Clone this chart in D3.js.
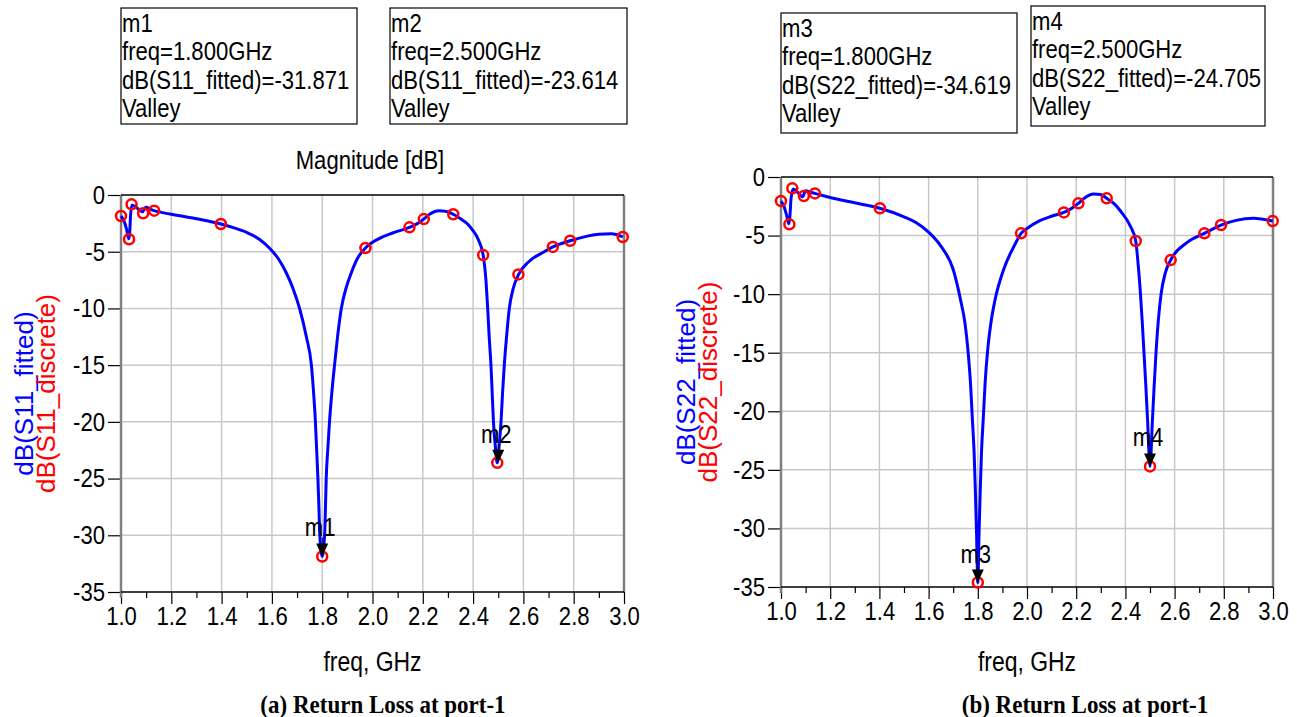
<!DOCTYPE html>
<html>
<head>
<meta charset="UTF-8">
<title>Return Loss at port-1</title>
<style>
  body { margin: 0; background: #fff; }
  svg text { font-family: "Liberation Sans", Arial, sans-serif; fill: #000; }
  svg text.caption { font-family: "Liberation Serif", "Times New Roman", serif; font-weight: bold; }
</style>
</head>
<body>
<script src="https://d3js.org/d3.v7.min.js"></script>
<script>

// ---- data ----
var xTicks = [1.0, 1.2, 1.4, 1.6, 1.8, 2.0, 2.2, 2.4, 2.6, 2.8, 3.0];
var xMinor = [1.1, 1.3, 1.5, 1.7, 1.9, 2.1, 2.3, 2.5, 2.7, 2.9];
var yTicks = [0, -5, -10, -15, -20, -25, -30, -35];

// [freq GHz, dB]
var s11Fitted = [[1.000,-1.85],[1.012,-2.3],[1.022,-3.0],[1.030,-3.85],[1.034,-3.5],[1.038,-1.8],[1.043,-0.9],
  [1.055,-1.0],[1.075,-1.35],[1.086,-1.47],[1.095,-1.15],[1.100,-1.08],[1.115,-1.25],[1.132,-1.38],[1.2,-1.7],
  [1.3,-2.1],[1.397,-2.56],[1.45,-2.9],[1.5,-3.3],[1.55,-3.9],[1.591,-4.7],[1.625,-5.6],[1.658,-6.9],[1.685,-8.3],
  [1.710,-10.0],[1.737,-12.5],[1.757,-15.0],[1.766,-17.5],[1.773,-20.0],[1.778,-22.5],[1.783,-25.0],[1.787,-27.5],
  [1.790,-29.8],[1.800,-31.871],[1.810,-29.8],[1.813,-27.5],[1.816,-25.0],[1.822,-22.5],[1.829,-20.0],[1.838,-17.5],
  [1.849,-15.0],[1.861,-12.5],[1.876,-10.0],[1.895,-8.2],[1.915,-6.9],[1.94,-5.6],[1.972,-4.67],
  [2.028,-3.82],[2.08,-3.35],[2.147,-2.85],[2.18,-2.5],[2.204,-2.12],[2.23,-1.65],[2.263,-1.38],[2.295,-1.45],
  [2.321,-1.70],[2.35,-2.1],[2.38,-2.6],[2.398,-3.09],[2.42,-3.9],[2.440,-5.29],[2.451,-7.5],[2.458,-10.0],
  [2.464,-12.5],[2.471,-15.0],[2.476,-17.5],[2.481,-20.0],[2.489,-22.3],[2.496,-23.614],[2.504,-22.0],[2.511,-20.0],
  [2.517,-17.5],[2.524,-15.0],[2.533,-12.5],[2.544,-10.0],[2.56,-8.2],[2.581,-7.0],[2.62,-5.9],
  [2.683,-5.0],[2.717,-4.58],[2.786,-4.03],[2.85,-3.65],[2.9,-3.45],[2.95,-3.42],[2.995,-3.70]];
var s11Discrete = [[1.000,-1.85],[1.032,-3.9],[1.042,-0.82],[1.088,-1.61],[1.132,-1.38],[1.397,-2.56],
  [1.800,-31.871],[1.972,-4.67],[2.147,-2.85],[2.204,-2.12],[2.321,-1.70],[2.440,-5.3],[2.496,-23.614],
  [2.580,-7.0],[2.717,-4.58],[2.786,-4.03],[2.995,-3.70]];

var s22Fitted = [[1.000,-2.05],[1.012,-2.5],[1.022,-3.2],[1.032,-4.0],[1.036,-3.4],[1.041,-1.8],[1.050,-1.03],
  [1.070,-1.35],[1.088,-1.68],[1.100,-1.17],[1.120,-1.3],[1.138,-1.40],[1.2,-1.75],[1.3,-2.2],[1.402,-2.67],
  [1.5,-3.4],[1.55,-3.9],[1.6,-4.7],[1.65,-5.9],[1.7,-7.9],[1.73,-10.5],[1.748,-12.5],[1.76,-14.8],[1.770,-17.5],
  [1.778,-20.7],[1.785,-23.5],[1.790,-26.7],[1.795,-30.5],
  [1.800,-34.619],[1.805,-30.5],[1.810,-26.7],[1.815,-23.5],[1.822,-20.7],[1.830,-17.5],[1.84,-14.8],[1.853,-12.5],
  [1.87,-10.5],[1.905,-7.9],[1.95,-5.8],[1.976,-4.81],
  [2.0,-4.4],[2.05,-3.75],[2.1,-3.35],[2.150,-3.02],[2.18,-2.7],[2.209,-2.25],[2.24,-1.7],[2.27,-1.45],[2.30,-1.5],
  [2.324,-1.82],[2.355,-2.3],[2.38,-2.9],[2.42,-4.2],[2.442,-5.46],[2.452,-7.5],[2.46,-9.6],[2.468,-12.2],[2.475,-14.8],
  [2.483,-17.8],[2.49,-20.7],[2.500,-24.705],[2.51,-20.7],[2.517,-17.8],[2.525,-14.8],[2.534,-12.2],[2.545,-10.0],
  [2.562,-8.2],[2.584,-7.09],[2.65,-5.6],[2.721,-4.81],[2.789,-4.10],
  [2.85,-3.7],[2.92,-3.53],[2.999,-3.76]];
var s22Discrete = [[1.000,-2.05],[1.034,-4.04],[1.046,-0.97],[1.093,-1.62],[1.138,-1.40],[1.402,-2.67],
  [1.800,-34.619],[1.976,-4.81],[2.150,-3.02],[2.209,-2.25],[2.324,-1.82],[2.442,-5.46],[2.500,-24.705],
  [2.584,-7.09],[2.721,-4.81],[2.789,-4.10],[2.999,-3.76]];

var markersA = [{name: "m1", freq: 1.8, db: -31.871}, {name: "m2", freq: 2.5, db: -23.614}];
var markersB = [{name: "m3", freq: 1.8, db: -34.619}, {name: "m4", freq: 2.5, db: -24.705}];

var m1Lines = ["m1", "freq=1.800GHz", "dB(S11_fitted)=-31.871", "Valley"];
var m2Lines = ["m2", "freq=2.500GHz", "dB(S11_fitted)=-23.614", "Valley"];
var m3Lines = ["m3", "freq=1.800GHz", "dB(S22_fitted)=-34.619", "Valley"];
var m4Lines = ["m4", "freq=2.500GHz", "dB(S22_fitted)=-24.705", "Valley"];

var SQ = 0.85; // horizontal squeeze of the original figure

// ---- svg ----
var svg = d3.select("body").append("svg")
            .attr("width", 1297)
            .attr("height", 717);

// narrow the text around its own x anchor
function squeeze(sel, sx) {
  sel.each(function() {
    var t = d3.select(this);
    var x = +t.attr("x") || 0;
    t.attr("transform", "translate(" + x + ",0) scale(" + sx + ",1) translate(" + (-x) + ",0)");
  });
}

function drawPanel(p) {
  var x = d3.scaleLinear().domain([1, 3]).range([p.left, p.right]);
  var y = d3.scaleLinear().domain([0, -35]).range([p.top, p.bottom]);
  var g = svg.append("g");

  // grid
  g.selectAll(".vgrid").data(xTicks.slice(1, -1)).enter().append("line")
    .attr("x1", d => x(d)).attr("x2", d => x(d))
    .attr("y1", p.top).attr("y2", p.bottom)
    .attr("stroke", "#c8c8c8").attr("stroke-width", 1.5);
  g.selectAll(".hgrid").data(yTicks.slice(1, -1)).enter().append("line")
    .attr("x1", p.left).attr("x2", p.right)
    .attr("y1", d => y(d)).attr("y2", d => y(d))
    .attr("stroke", "#c8c8c8").attr("stroke-width", 1.5);

  // axes
  var yAxis = g.append("g").attr("transform", "translate(" + p.left + ",0)")
    .call(d3.axisLeft(y).tickValues(yTicks).tickSize(13).tickPadding(3).tickFormat(d3.format("d")));
  var xAxis = g.append("g").attr("transform", "translate(0," + p.bottom + ")")
    .call(d3.axisBottom(x).tickValues(xTicks).tickSize(12).tickPadding(3).tickFormat(d3.format(".1f")));
  var xMin = g.append("g").attr("transform", "translate(0," + p.bottom + ")")
    .call(d3.axisBottom(x).tickValues(xMinor).tickSize(6).tickFormat(""));
  [yAxis, xAxis, xMin].forEach(function(a) {
    a.select(".domain").remove();
    a.selectAll("line").attr("stroke", "#000").attr("stroke-width", 1.2);
    a.selectAll("text").style("font-size", "26px").attr("fill", "#000").call(squeeze, SQ);
  });
  yAxis.selectAll("text").text(d => d === 0 ? "0" : "-" + Math.abs(d));

  // frame
  g.append("line").attr("x1", p.left).attr("x2", p.left).attr("y1", p.top).attr("y2", p.bottom + 6)
    .attr("stroke", "#808080").attr("stroke-width", 2.5);
  g.append("line").attr("x1", p.right).attr("x2", p.right).attr("y1", p.top).attr("y2", p.bottom)
    .attr("stroke", "#808080").attr("stroke-width", 2.5);
  g.append("line").attr("x1", p.left).attr("x2", p.right).attr("y1", p.top).attr("y2", p.top)
    .attr("stroke", "#000").attr("stroke-width", 1.5);
  g.append("line").attr("x1", p.left).attr("x2", p.right).attr("y1", p.bottom).attr("y2", p.bottom)
    .attr("stroke", "#000").attr("stroke-width", 1.5);

  // fitted curve
  var line = d3.line().x(d => x(d[0])).y(d => y(d[1])).curve(d3.curveMonotoneX);
  g.append("path").datum(p.fitted)
    .attr("d", line).attr("fill", "none")
    .attr("stroke", "#0000ff").attr("stroke-width", 3);

  // discrete points
  g.selectAll(".pt").data(p.discrete).enter().append("circle")
    .attr("cx", d => x(d[0])).attr("cy", d => y(d[1])).attr("r", 5)
    .attr("fill", "none").attr("stroke", "#ff0000").attr("stroke-width", 2.5);

  // markers
  p.markers.forEach(function(m) {
    var mx = x(m.freq), my = y(m.db);
    g.append("line").attr("x1", mx).attr("x2", mx).attr("y1", my - 19).attr("y2", my - 12)
      .attr("stroke", "#000").attr("stroke-width", 1);
    g.append("path")
      .attr("d", "M" + mx + "," + my + "L" + (mx - 6) + "," + (my - 13) + "L" + (mx + 6) + "," + (my - 13) + "Z")
      .attr("fill", "#000");
    g.append("text").attr("x", mx - 2).attr("y", my - 20)
      .attr("text-anchor", "middle").style("font-size", "26px").text(m.name).call(squeeze, SQ);
  });

  // y label
  var cy = (p.top + p.bottom) / 2;
  g.append("text").attr("transform", "translate(" + p.labelX1 + "," + cy + ") rotate(-90)")
    .attr("text-anchor", "middle").style("font-size", "26px").style("fill", "#0000ff")
    .text(p.label1);
  g.append("text").attr("transform", "translate(" + p.labelX2 + "," + cy + ") rotate(-90)")
    .attr("text-anchor", "middle").style("font-size", "26px").style("fill", "#ff0000")
    .text(p.label2);

  // x label and caption
  var cx = (p.left + p.right) / 2;
  g.append("text").attr("x", cx).attr("y", 671).attr("text-anchor", "middle")
    .style("font-size", "27px").text("freq, GHz").call(squeeze, SQ);
  g.append("text").attr("class", "caption").attr("x", p.captionX).attr("y", 713)
    .attr("text-anchor", "middle").style("font-size", "25px").text(p.caption).call(squeeze, 0.92);

  // marker boxes
  p.boxes.forEach(function(b) {
    g.append("rect").attr("x", b.x).attr("y", b.y).attr("width", b.w).attr("height", b.h)
      .attr("fill", "#fff").attr("stroke", "#000").attr("stroke-width", 1.2);
    g.selectAll(null).data(b.lines).enter().append("text")
      .attr("x", b.x + 1).attr("y", (d, i) => b.y + 24 + i * 28.5)
      .style("font-size", "26px").text(d => d).call(squeeze, SQ);
  });
}

drawPanel({
  left: 121, right: 624, top: 195, bottom: 592,
  fitted: s11Fitted, discrete: s11Discrete, markers: markersA,
  label1: "dB(S11_fitted)", label2: "dB(S11_discrete)", labelX1: 33, labelX2: 55,
  caption: "(a) Return Loss at port-1", captionX: 383,
  boxes: [{x: 121, y: 8, w: 236, h: 116, lines: m1Lines}, {x: 390, y: 8, w: 237, h: 116, lines: m2Lines}]
});

svg.append("text").attr("x", 370).attr("y", 169).attr("text-anchor", "middle")
  .style("font-size", "26px").text("Magnitude [dB]").call(squeeze, SQ);

drawPanel({
  left: 781, right: 1273, top: 177, bottom: 587,
  fitted: s22Fitted, discrete: s22Discrete, markers: markersB,
  label1: "dB(S22_fitted)", label2: "dB(S22_discrete)", labelX1: 695, labelX2: 717,
  caption: "(b) Return Loss at port-1", captionX: 1085,
  boxes: [{x: 781, y: 13, w: 236, h: 120, lines: m3Lines}, {x: 1031, y: 6, w: 234, h: 120, lines: m4Lines}]
});

</script>
</body>
</html>
